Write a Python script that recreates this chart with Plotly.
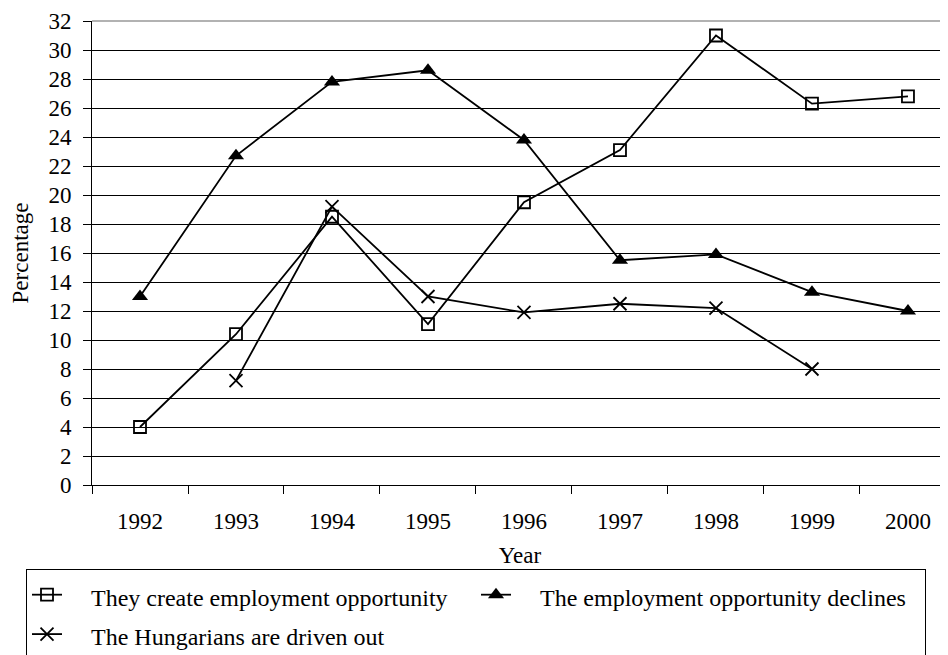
import plotly.graph_objects as go

years = ["1992", "1993", "1994", "1995", "1996", "1997", "1998", "1999", "2000"]
create_opportunity = [4.0, 10.4, 18.5, 11.1, 19.5, 23.1, 31.0, 26.3, 26.8]
opportunity_declines = [13.0, 22.7, 27.8, 28.6, 23.8, 15.5, 15.9, 13.3, 12.0]
driven_out = [None, 7.2, 19.2, 13.0, 11.9, 12.5, 12.2, 8.0, None]
series_names = [
    "They create employment opportunity",
    "The employment opportunity declines",
    "The Hungarians are driven out",
]

y_ticks = list(range(0, 33, 2))

FONT = "Liberation Serif"
PAD = "\u00a0" * 4


def legend_label(text):
    return '<span style="font-size:24px">' + PAD + text + "</span>"


fig = go.Figure()
fig.add_trace(go.Scatter(
    x=years, y=create_opportunity, mode="lines+markers",
    name=legend_label(series_names[0]),
    line=dict(color="black", width=1.8),
    marker=dict(symbol="square-open", size=12, color="black", line=dict(width=1.8, color="black")),
))
fig.add_trace(go.Scatter(
    x=years, y=opportunity_declines, mode="lines+markers",
    name=legend_label(series_names[1]),
    line=dict(color="black", width=1.8),
    marker=dict(symbol="triangle-up", size=14, color="black"),
))
fig.add_trace(go.Scatter(
    x=years, y=driven_out, mode="lines+markers",
    name=legend_label(series_names[2]),
    line=dict(color="black", width=1.8),
    marker=dict(symbol="x-thin-open", size=13, color="black", line=dict(width=1.8, color="black")),
    connectgaps=False,
))

# page body has an 8px margin, so the figure is 8px smaller and offsets shifted
fig.update_layout(
    width=940, height=647,
    margin=dict(l=84, r=0, t=13, b=170, autoexpand=False),
    paper_bgcolor="white", plot_bgcolor="white",
    font=dict(family=FONT, size=23, color="black"),
    showlegend=True,
    legend=dict(
        orientation="h",
        x=-0.0771, y=-0.181, xanchor="left", yanchor="top",
        bordercolor="black", borderwidth=1,
        font=dict(family=FONT, size=28, color="black"),
        entrywidth=404, entrywidthmode="pixels",
        bgcolor="white",
    ),
    xaxis=dict(
        type="category", categoryorder="array", categoryarray=years,
        range=[-0.5, 8.417], automargin=False,
        showline=True, linecolor="black", linewidth=1,
        ticks="outside", tickson="boundaries", ticklen=8, tickcolor="black", tickwidth=1,
        ticklabelstandoff=15,
        showgrid=False, zeroline=False,
        tickfont=dict(family=FONT, size=23, color="black"),
        title=dict(text="Year", font=dict(family=FONT, size=23, color="black"), standoff=14),
    ),
    yaxis=dict(
        range=[0, 32], tickmode="array", tickvals=y_ticks, automargin=False,
        showline=True, linecolor="black", linewidth=1,
        ticks="outside", ticklen=8, tickcolor="black", tickwidth=1,
        ticklabelstandoff=7,
        showgrid=True, gridcolor="black", gridwidth=1,
        zeroline=False,
        tickfont=dict(family=FONT, size=23, color="black"),
        title=dict(text="Percentage", font=dict(family=FONT, size=23, color="black"), standoff=16),
    ),
    shapes=[dict(type="line", xref="paper", yref="paper", x0=0, x1=1, y0=1, y1=1,
                 line=dict(color="#999999", width=1.5))],
)

fig.write_html("out.html")
